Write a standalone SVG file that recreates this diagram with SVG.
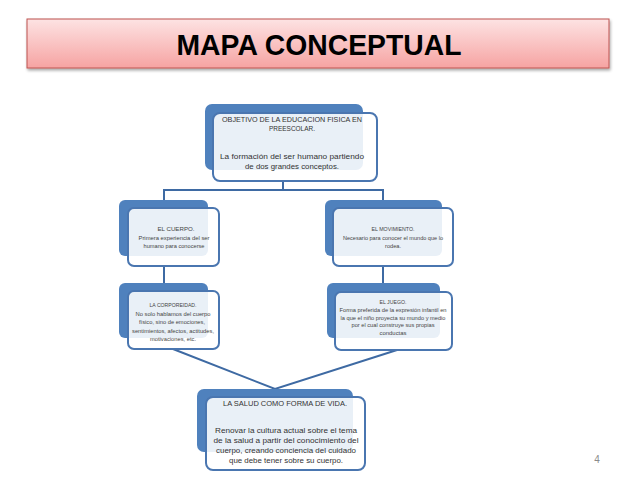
<svg xmlns="http://www.w3.org/2000/svg" width="638" height="479" viewBox="0 0 638 479">
<defs>
<linearGradient id="pink" x1="0" y1="0" x2="0" y2="1">
<stop offset="0" stop-color="#fde3e3"/>
<stop offset="1" stop-color="#f6a3a2"/>
</linearGradient>
<filter id="sh" x="-5%" y="-20%" width="110%" height="150%">
<feGaussianBlur in="SourceAlpha" stdDeviation="1.5"/>
<feOffset dx="1" dy="2" result="b"/>
<feComponentTransfer><feFuncA type="linear" slope="0.35"/></feComponentTransfer>
<feMerge><feMergeNode/><feMergeNode in="SourceGraphic"/></feMerge>
</filter>
</defs>
<style>
.back{fill:#4f81bd;}
.front{fill:#ffffff;fill-opacity:0.88;stroke:#4a76b0;stroke-width:2;}
.conn{stroke:#3e6aa3;stroke-width:2;fill:none;}
.t{font-family:"Liberation Sans",Arial,sans-serif;fill:#333333;text-anchor:middle;}
.big{font-size:8px;}
.sm{font-size:6.2px;fill:#444444;}
.title{font-family:"Liberation Sans",Arial,sans-serif;font-weight:bold;font-size:30px;fill:#000;text-anchor:middle;}
</style>
<rect width="638" height="479" fill="#ffffff"/>

<g id="title">
<rect x="27" y="19" width="582" height="49" fill="url(#pink)" stroke="#be5350" stroke-width="1" filter="url(#sh)"/>
<text class="title" x="319" y="55" textLength="285" lengthAdjust="spacingAndGlyphs">MAPA CONCEPTUAL</text>
</g>

<g id="connectors">
<polyline class="conn" points="283,181 283,190"/>
<polyline class="conn" points="164,208 164,190 383,190 383,208"/>
<line class="conn" x1="164" y1="266" x2="164" y2="291"/>
<line class="conn" x1="383" y1="266" x2="383" y2="292"/>
<polyline class="conn" points="173,349 275,389 397,350"/>
</g>

<g id="objetivo">
<rect class="back" x="205" y="104" width="158" height="66" rx="7"/>
<rect class="front" x="213" y="113" width="164" height="68" rx="7"/>
<text class="t big" x="292" y="122" textLength="140" lengthAdjust="spacingAndGlyphs">OBJETIVO DE LA EDUCACION FISICA EN</text>
<text class="t big" x="292" y="131" textLength="46" lengthAdjust="spacingAndGlyphs">PREESCOLAR.</text>
<text class="t big" x="292" y="159" textLength="144" lengthAdjust="spacingAndGlyphs">La formación del ser humano partiendo</text>
<text class="t big" x="292" y="169" textLength="94" lengthAdjust="spacingAndGlyphs">de dos grandes conceptos.</text>
</g>

<g id="cuerpo">
<rect class="back" x="119" y="200" width="89" height="56" rx="6"/>
<rect class="front" x="128" y="208" width="91" height="58" rx="6"/>
<text class="t sm" x="176" y="231" textLength="37" lengthAdjust="spacingAndGlyphs">EL CUERPO.</text>
<text class="t sm" x="174" y="240" textLength="71" lengthAdjust="spacingAndGlyphs">Primera experiencia del ser</text>
<text class="t sm" x="174" y="248" textLength="61" lengthAdjust="spacingAndGlyphs">humano para conocerse</text>
</g>

<g id="movimiento">
<rect class="back" x="325" y="200" width="117" height="56" rx="6"/>
<rect class="front" x="333" y="208" width="120" height="58" rx="6"/>
<text class="t sm" x="393" y="231" textLength="43" lengthAdjust="spacingAndGlyphs">EL MOVIMIENTO.</text>
<text class="t sm" x="393" y="240" textLength="100" lengthAdjust="spacingAndGlyphs">Necesario para conocer el mundo que lo</text>
<text class="t sm" x="393" y="248" textLength="16" lengthAdjust="spacingAndGlyphs">rodea.</text>
</g>

<g id="corporeidad">
<rect class="back" x="119" y="283" width="89" height="55" rx="6"/>
<rect class="front" x="128" y="291" width="91" height="58" rx="6"/>
<text class="t sm" x="173" y="307" textLength="47" lengthAdjust="spacingAndGlyphs">LA CORPOREIDAD.</text>
<text class="t sm" x="173" y="316" textLength="75" lengthAdjust="spacingAndGlyphs">No solo hablamos del cuerpo</text>
<text class="t sm" x="172" y="324" textLength="66" lengthAdjust="spacingAndGlyphs">físico, sino de emociones,</text>
<text class="t sm" x="173" y="333" textLength="82" lengthAdjust="spacingAndGlyphs">sentimientos, afectos, actitudes,</text>
<text class="t sm" x="173" y="341" textLength="46" lengthAdjust="spacingAndGlyphs">motivaciones, etc.</text>
</g>

<g id="juego">
<rect class="back" x="327" y="283" width="113" height="55" rx="6"/>
<rect class="front" x="335" y="292" width="117" height="58" rx="6"/>
<text class="t sm" x="393" y="304" textLength="27" lengthAdjust="spacingAndGlyphs">EL JUEGO.</text>
<text class="t sm" x="393" y="312" textLength="107" lengthAdjust="spacingAndGlyphs">Forma preferida de la expresión infantil en</text>
<text class="t sm" x="393" y="320" textLength="105" lengthAdjust="spacingAndGlyphs">la que el niño proyecta su mundo y medio</text>
<text class="t sm" x="393" y="327" textLength="83" lengthAdjust="spacingAndGlyphs">por el cual construye sus propias</text>
<text class="t sm" x="393" y="335" textLength="27" lengthAdjust="spacingAndGlyphs">conductas</text>
</g>

<g id="salud">
<rect class="back" x="197" y="389" width="156" height="63" rx="7"/>
<rect class="front" x="206" y="397" width="159" height="73" rx="7"/>
<text class="t big" x="285" y="406" textLength="124" lengthAdjust="spacingAndGlyphs">LA SALUD COMO FORMA DE VIDA.</text>
<text class="t big" x="286" y="433" textLength="142" lengthAdjust="spacingAndGlyphs">Renovar la cultura actual sobre el tema</text>
<text class="t big" x="286" y="443" textLength="145" lengthAdjust="spacingAndGlyphs">de la salud a partir del conocimiento del</text>
<text class="t big" x="286" y="453" textLength="140" lengthAdjust="spacingAndGlyphs">cuerpo, creando conciencia del cuidado</text>
<text class="t big" x="286" y="463" textLength="114" lengthAdjust="spacingAndGlyphs">que debe tener sobre su cuerpo.</text>
</g>

<g id="page">
<text x="597" y="463" font-family="Liberation Sans,Arial,sans-serif" font-size="10" fill="#8a8a8a" text-anchor="middle">4</text>
</g>
</svg>
